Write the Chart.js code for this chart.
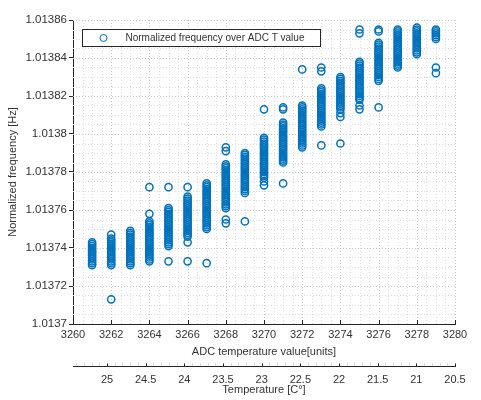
<!DOCTYPE html>
<html>
<head>
<meta charset="utf-8">
<title>Normalized frequency over ADC T value</title>
<script src="https://cdn.jsdelivr.net/npm/chart.js@4.4.1/dist/chart.umd.min.js"></script>
<style>
  html, body { margin: 0; padding: 0; background: #fff; }
  #wrap { width: 481px; height: 400px; }
</style>
</head>
<body>
<div id="wrap"><canvas id="chart" width="481" height="400"></canvas></div>
<script>
// ---- data (ADC code -> normalized frequency samples) ----
const adcCodes = [3261, 3262, 3263, 3264, 3265, 3266, 3267, 3268, 3269, 3270,
                  3271, 3272, 3273, 3274, 3275, 3276, 3277, 3278, 3279];

const f3261 = [1.013731, 1.013732, 1.013733, 1.013734, 1.013735, 1.013736, 1.013737, 1.013738,
               1.013739, 1.013740, 1.013741, 1.013742, 1.013743];
const f3262 = [1.013713, 1.013731, 1.013732, 1.013733, 1.013734, 1.013735, 1.013736, 1.013737,
               1.013738, 1.013739, 1.013740, 1.013741, 1.013742, 1.013743, 1.013744, 1.013745, 1.013747];
const f3263 = [1.013731, 1.013732, 1.013733, 1.013734, 1.013735, 1.013736, 1.013737, 1.013738,
               1.013739, 1.013740, 1.013741, 1.013742, 1.013743, 1.013744, 1.013745, 1.013746,
               1.013747, 1.013748, 1.013749];
const f3264 = [1.013733, 1.013734, 1.013735, 1.013736, 1.013737, 1.013738, 1.013739, 1.013740,
               1.013741, 1.013742, 1.013743, 1.013744, 1.013745, 1.013746, 1.013747, 1.013748,
               1.013749, 1.013750, 1.013751, 1.013752, 1.013753, 1.013754, 1.013758, 1.013772];
const f3265 = [1.013733, 1.013741, 1.013742, 1.013743, 1.013744, 1.013745, 1.013746, 1.013747,
               1.013748, 1.013749, 1.013750, 1.013751, 1.013752, 1.013753, 1.013754, 1.013755,
               1.013756, 1.013757, 1.013758, 1.013759, 1.013760, 1.013761, 1.013772];
const f3266 = [1.013733, 1.013743, 1.013746, 1.013747, 1.013748, 1.013749, 1.013750, 1.013751,
               1.013752, 1.013753, 1.013754, 1.013755, 1.013756, 1.013757, 1.013758, 1.013759,
               1.013760, 1.013761, 1.013762, 1.013763, 1.013764, 1.013765, 1.013766, 1.013767, 1.013772];
const f3267 = [1.013732, 1.013750, 1.013751, 1.013752, 1.013753, 1.013754, 1.013755, 1.013756,
               1.013757, 1.013758, 1.013759, 1.013760, 1.013761, 1.013762, 1.013763, 1.013764,
               1.013765, 1.013766, 1.013767, 1.013768, 1.013769, 1.013770, 1.013771, 1.013772,
               1.013773, 1.013774];
const f3268 = [1.013753, 1.013755, 1.013761, 1.013762, 1.013763, 1.013764, 1.013765, 1.013766,
               1.013767, 1.013768, 1.013769, 1.013770, 1.013771, 1.013772, 1.013773, 1.013774,
               1.013775, 1.013776, 1.013777, 1.013778, 1.013779, 1.013780, 1.013781, 1.013782,
               1.013783, 1.013784, 1.013791, 1.013793];
const f3269 = [1.013754, 1.013769, 1.013770, 1.013771, 1.013772, 1.013773, 1.013774, 1.013775,
               1.013776, 1.013777, 1.013778, 1.013779, 1.013780, 1.013781, 1.013782, 1.013783,
               1.013784, 1.013785, 1.013786, 1.013787, 1.013788, 1.013789, 1.013790];
const f3270 = [1.013773, 1.013775, 1.013777, 1.013778, 1.013779, 1.013780, 1.013781, 1.013782,
               1.013783, 1.013784, 1.013785, 1.013786, 1.013787, 1.013788, 1.013789, 1.013790,
               1.013791, 1.013792, 1.013793, 1.013794, 1.013795, 1.013796, 1.013797, 1.013798, 1.013813];
const f3271 = [1.013774, 1.013785, 1.013786, 1.013787, 1.013788, 1.013789, 1.013790, 1.013791,
               1.013792, 1.013793, 1.013794, 1.013795, 1.013796, 1.013797, 1.013798, 1.013799,
               1.013800, 1.013801, 1.013802, 1.013803, 1.013804, 1.013805, 1.013806, 1.013813, 1.013814];
const f3272 = [1.013793, 1.013794, 1.013795, 1.013796, 1.013797, 1.013798, 1.013799, 1.013800,
               1.013801, 1.013802, 1.013803, 1.013804, 1.013805, 1.013806, 1.013807, 1.013808,
               1.013809, 1.013810, 1.013811, 1.013812, 1.013813, 1.013814, 1.013815, 1.013834];
const f3273 = [1.013794, 1.013804, 1.013805, 1.013806, 1.013807, 1.013808, 1.013809, 1.013810,
               1.013811, 1.013812, 1.013813, 1.013814, 1.013815, 1.013816, 1.013817, 1.013818,
               1.013819, 1.013820, 1.013821, 1.013822, 1.013823, 1.013824, 1.013833, 1.013835];
const f3274 = [1.013795, 1.013809, 1.013811, 1.013813, 1.013814, 1.013815, 1.013816, 1.013817,
               1.013818, 1.013819, 1.013820, 1.013821, 1.013822, 1.013823, 1.013824, 1.013825,
               1.013826, 1.013827, 1.013828, 1.013829, 1.013830];
const f3275 = [1.013813, 1.013815, 1.013818, 1.013819, 1.013820, 1.013821, 1.013822, 1.013823,
               1.013824, 1.013825, 1.013826, 1.013827, 1.013828, 1.013829, 1.013830, 1.013831,
               1.013832, 1.013833, 1.013834, 1.013835, 1.013836, 1.013837, 1.013838, 1.013853, 1.013855];
const f3276 = [1.013814, 1.013828, 1.013829, 1.013830, 1.013831, 1.013832, 1.013833, 1.013834,
               1.013835, 1.013836, 1.013837, 1.013838, 1.013839, 1.013840, 1.013841, 1.013842,
               1.013843, 1.013844, 1.013845, 1.013846, 1.013847, 1.013848, 1.013854, 1.013855];
const f3277 = [1.013835, 1.013836, 1.013837, 1.013838, 1.013839, 1.013840, 1.013841, 1.013842,
               1.013843, 1.013844, 1.013845, 1.013846, 1.013847, 1.013848, 1.013849, 1.013850,
               1.013851, 1.013852, 1.013853, 1.013854, 1.013855];
const f3278 = [1.013842, 1.013843, 1.013844, 1.013845, 1.013846, 1.013847, 1.013848, 1.013849,
               1.013850, 1.013851, 1.013852, 1.013853, 1.013854, 1.013855, 1.013856];
const f3279 = [1.013832, 1.013835, 1.013850, 1.013851, 1.013852, 1.013853, 1.013854, 1.013855];

const freqColumns = [f3261, f3262, f3263, f3264, f3265, f3266, f3267, f3268, f3269, f3270,
                     f3271, f3272, f3273, f3274, f3275, f3276, f3277, f3278, f3279];

// secondary axis (temperature in C, decreasing left->right)
const tempTicks = [25, 24.5, 24, 23.5, 23, 22.5, 22, 21.5, 21, 20.5];
const tempRange = [20.5, 25.44];

const legendText = "Normalized frequency over ADC T value";

// ---- styling ----
const FONT = '"Liberation Sans", Arial, Helvetica, sans-serif';
const AXIS_COL = "#262626";
const TEXT_COL = "#333333";
const MARK_COL = "#0072BD";

Chart.defaults.font.family = FONT;
Chart.defaults.color = TEXT_COL;

// build scatter points from the columns
const points = [];
adcCodes.forEach((code, i) => {
    freqColumns[i].forEach(f => points.push({ x: code, y: f }));
});

function hline(ctx, x1, y1, x2, y2) {
    ctx.beginPath();
    ctx.moveTo(x1, y1);
    ctx.lineTo(x2, y2);
    ctx.stroke();
}

// MATLAB-ish grid, inward ticks, secondary axis tick marks, legend
const matlabLook = {
    id: "matlabLook",
    beforeDatasetsDraw(chart) {
        const { ctx, chartArea: a, scales: { x, y } } = chart;
        ctx.save();
        ctx.lineWidth = 1;
        ctx.setLineDash([1, 2]);
        // vertical grid, minor every 0.5
        for (let i = 1; i <= 40; i++) {
            const px = Math.round(x.getPixelForValue(x.min + i * 0.5)) + 0.5;
            ctx.strokeStyle = i % 4 === 0 ? "#c8c8c8" : "#dedede";
            hline(ctx, px, a.top, px, a.bottom);
        }
        // horizontal grid, minor every 5e-6
        for (let i = 1; i <= 32; i++) {
            const py = Math.round(y.getPixelForValue(y.min + i * 0.000005)) + 0.5;
            ctx.strokeStyle = i % 4 === 0 ? "#c8c8c8" : "#dedede";
            hline(ctx, a.left, py, a.right, py);
        }
        ctx.restore();
    },
    afterDraw(chart) {
        const { ctx, chartArea: a, scales: { x, x2 } } = chart;
        ctx.save();
        ctx.lineWidth = 1;
        ctx.strokeStyle = AXIS_COL;

        // inward ticks on bottom axis
        x.ticks.forEach(t => {
            const px = Math.round(x.getPixelForValue(t.value)) + 0.5;
            hline(ctx, px, a.bottom, px, a.bottom - 4);
        });

        // secondary temperature axis: faint minor strip + upward ticks
        const base = Math.round(x2.top) + 0.5;
        ctx.strokeStyle = "#d0d0d0";
        for (let i = 0; i <= 49; i++) {
            const px = Math.round(x2.getPixelForValue(tempRange[0] + i * 0.1)) + 0.5;
            hline(ctx, px, base - 1, px, base - 3);
        }
        ctx.strokeStyle = AXIS_COL;
        tempTicks.forEach(v => {
            const px = Math.round(x2.getPixelForValue(v)) + 0.5;
            hline(ctx, px, base, px, base - 3);
        });

        // legend box inside the plot area
        const lx = a.left + 9.5, ly = a.top + 9.5, lw = 238, lh = 17;
        ctx.fillStyle = "#ffffff";
        ctx.fillRect(lx, ly, lw, lh);
        ctx.strokeStyle = AXIS_COL;
        ctx.strokeRect(lx, ly, lw, lh);
        ctx.strokeStyle = MARK_COL;
        ctx.beginPath();
        ctx.arc(lx + 21, ly + lh / 2, 3.5, 0, Math.PI * 2);
        ctx.stroke();
        ctx.fillStyle = TEXT_COL;
        ctx.font = "10px " + FONT;
        ctx.textBaseline = "middle";
        ctx.textAlign = "left";
        ctx.fillText(legendText, lx + 43, ly + lh / 2 + 0.5);
        ctx.restore();
    }
};

new Chart(document.getElementById("chart"), {
    type: "scatter",
    data: {
        datasets: [{
            label: legendText,
            data: points,
            pointStyle: "circle",
            pointRadius: 3.6,
            pointBorderWidth: 1.5,
            borderColor: MARK_COL,
            backgroundColor: "rgba(0,0,0,0)"
        }]
    },
    options: {
        responsive: false,
        animation: false,
        events: [],
        layout: { padding: { left: 0, top: 20, right: 26, bottom: 0 } },
        plugins: { legend: { display: false }, tooltip: { enabled: false } },
        scales: {
            x: {
                type: "linear",
                position: "bottom",
                weight: 0,
                min: 3260,
                max: 3280,
                ticks: { stepSize: 2, padding: 4, maxRotation: 0, autoSkip: false,
                         font: { size: 11 }, color: TEXT_COL, callback: v => String(v) },
                grid: { drawOnChartArea: false, drawTicks: false },
                border: { display: true, color: AXIS_COL, width: 1 },
                title: { display: true, text: "ADC temperature value[units]",
                         font: { size: 11 }, color: TEXT_COL, padding: { top: 0, bottom: 7 } },
                afterFit: s => { s.height = 42; }
            },
            x2: {
                type: "linear",
                position: "bottom",
                weight: 1,
                reverse: true,
                min: tempRange[0],
                max: tempRange[1],
                afterBuildTicks: s => { s.ticks = tempTicks.map(v => ({ value: v })); },
                ticks: { padding: 7, maxRotation: 0, autoSkip: false,
                         font: { size: 11 }, color: TEXT_COL, callback: v => String(v) },
                grid: { drawOnChartArea: false, drawTicks: false },
                border: { display: true, color: AXIS_COL, width: 1 },
                title: { display: true, text: "Temperature [C°]",
                         font: { size: 11 }, color: TEXT_COL, padding: { top: 0, bottom: 3 } },
                afterFit: s => { s.height = 34; }
            },
            y: {
                type: "linear",
                min: 1.0137,
                max: 1.01386,
                ticks: { stepSize: 0.00002, padding: 2, font: { size: 11.5 }, color: TEXT_COL,
                         callback: v => String(Number(v.toFixed(5))) },
                grid: { drawOnChartArea: false, drawTicks: true, tickLength: 4, tickColor: AXIS_COL },
                border: { display: true, color: AXIS_COL, width: 1 },
                title: { display: true, text: "Normalized frequency [Hz]",
                         font: { size: 11 }, color: TEXT_COL, padding: { top: 6, bottom: 0 } },
                afterFit: s => { s.width = 73; }
            }
        }
    },
    plugins: [matlabLook]
});
</script>
</body>
</html>
